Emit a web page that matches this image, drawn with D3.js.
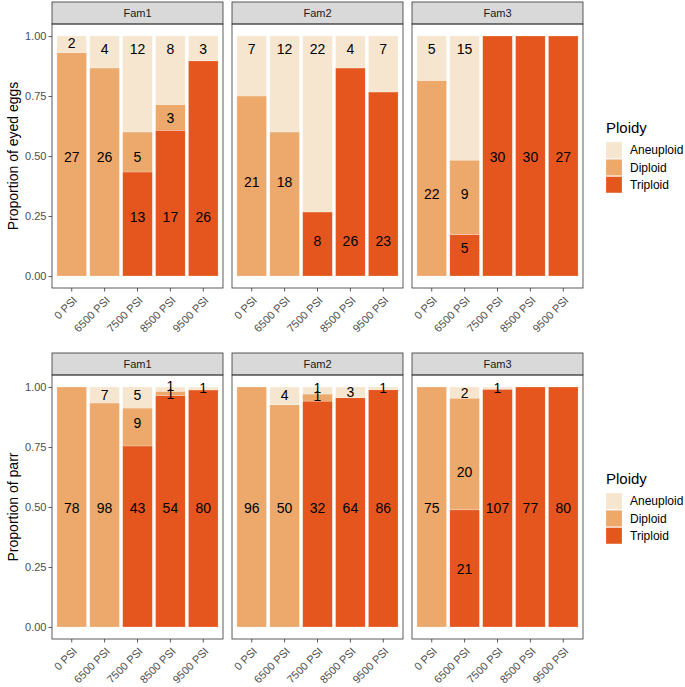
<!DOCTYPE html>
<html>
<head>
  <meta charset="utf-8">
  <title>Ploidy by pressure</title>
  <script src="https://cdn.jsdelivr.net/npm/d3@7"></script>
  <style>
    body { margin: 0; background: #fff; }
    svg text { font-family: "Liberation Sans", Arial, sans-serif; }
  </style>
</head>
<body>
<svg id="chart" width="685" height="687"></svg>
<script>
  var families = ['Fam1', 'Fam2', 'Fam3'];
  var pressures = ['0 PSI', '6500 PSI', '7500 PSI', '8500 PSI', '9500 PSI'];
  var ploidy = ['Aneuploid', 'Diploid', 'Triploid'];

  // counts, one row per family, one value per pressure
  var eggsAneuploid = [[2, 4, 12, 8, 3], [7, 12, 22, 4, 7], [5, 15, 0, 0, 0]];
  var eggsDiploid   = [[27, 26, 5, 3, 0], [21, 18, 0, 0, 0], [22, 9, 0, 0, 0]];
  var eggsTriploid  = [[0, 0, 13, 17, 26], [0, 0, 8, 26, 23], [0, 5, 30, 30, 27]];

  var parrAneuploid = [[0, 7, 5, 1, 1], [0, 4, 1, 3, 1], [0, 2, 1, 0, 0]];
  var parrDiploid   = [[78, 98, 9, 1, 0], [96, 50, 1, 0, 0], [75, 20, 0, 0, 0]];
  var parrTriploid  = [[0, 0, 43, 54, 80], [0, 0, 32, 64, 86], [0, 21, 107, 77, 80]];

  // height (as a proportion) where each count label sits in the original
  var eggsLabelA = [[0.97, 0.944, 0.944, 0.944, 0.944], [0.944, 0.944, 0.944, 0.944, 0.944], [0.944, 0.944, 0, 0, 0]];
  var eggsLabelD = [[0.496, 0.496, 0.496, 0.66, 0], [0.39, 0.39, 0, 0, 0], [0.34, 0.34, 0, 0, 0]];
  var eggsLabelT = [[0, 0, 0.245, 0.245, 0.245], [0, 0, 0.146, 0.146, 0.146], [0, 0.116, 0.496, 0.496, 0.496]];

  var parrLabelA = [[0, 0.967, 0.967, 1.004, 0.995], [0, 0.967, 0.995, 0.978, 0.995], [0, 0.975, 0.995, 0, 0]];
  var parrLabelD = [[0.498, 0.498, 0.85, 0.97, 0], [0.498, 0.498, 0.964, 0, 0], [0.498, 0.646, 0, 0, 0]];
  var parrLabelT = [[0, 0, 0.498, 0.498, 0.498], [0, 0, 0.498, 0.498, 0.498], [0, 0.241, 0.498, 0.498, 0.498]];

  var yTicks = [0, 0.25, 0.5, 0.75, 1];

  var colors = d3.scaleOrdinal().domain(ploidy).range(['#F6E6CF', '#EDA86B', '#E5561F']);

  var rows = [
    { title: 'Proportion of eyed eggs', counts: [eggsAneuploid, eggsDiploid, eggsTriploid],
      labels: [eggsLabelA, eggsLabelD, eggsLabelT], stripTop: 2, legendTop: 133 },
    { title: 'Proportion of parr', counts: [parrAneuploid, parrDiploid, parrTriploid],
      labels: [parrLabelA, parrLabelD, parrLabelT], stripTop: 353, legendTop: 484 }
  ];

  var panelX = [52, 232, 412];
  var panelW = 171;
  var stripH = 22;
  var panelH = 264;
  var ink = '#333333';

  var svg = d3.select('#chart');

  rows.forEach(function(row) {
    var top = row.stripTop + stripH;
    var bottom = top + panelH;
    var y = d3.scaleLinear().domain([-0.05, 1.05]).range([bottom, top]);

    families.forEach(function(fam, fi) {
      var x = d3.scaleBand().domain(pressures)
        .range([panelX[fi], panelX[fi] + panelW])
        .paddingInner(0.1).paddingOuter(0.15);

      var g = svg.append('g');

      // strip
      g.append('rect')
        .attr('x', panelX[fi]).attr('y', row.stripTop)
        .attr('width', panelW).attr('height', stripH)
        .attr('fill', '#D9D9D9').attr('stroke', ink).attr('stroke-width', 0.8);
      g.append('text')
        .attr('x', panelX[fi] + panelW / 2).attr('y', row.stripTop + stripH / 2)
        .attr('dy', '0.35em').attr('text-anchor', 'middle')
        .attr('font-size', 11).attr('fill', '#1A1A1A')
        .text(fam);

      // stacked bars: triploid at bottom, aneuploid on top
      pressures.forEach(function(p, pi) {
        var total = row.counts[0][fi][pi] + row.counts[1][fi][pi] + row.counts[2][fi][pi];
        var base = 0;
        [2, 1, 0].forEach(function(k) {
          var n = row.counts[k][fi][pi];
          if (n === 0) return;
          var frac = n / total;
          g.append('rect')
            .attr('x', x(p)).attr('width', x.bandwidth())
            .attr('y', y(base + frac)).attr('height', y(base) - y(base + frac))
            .attr('fill', colors(ploidy[k]))
            .attr('stroke', '#ffffff').attr('stroke-opacity', 0.35).attr('stroke-width', 0.6);
          base += frac;
        });
      });

      // count labels
      pressures.forEach(function(p, pi) {
        [2, 1, 0].forEach(function(k) {
          var n = row.counts[k][fi][pi];
          if (n === 0) return;
          g.append('text')
            .attr('x', x(p) + x.bandwidth() / 2)
            .attr('y', y(row.labels[k][fi][pi]))
            .attr('dy', '0.36em').attr('text-anchor', 'middle')
            .attr('font-size', 14).attr('fill', '#000')
            .text(n);
        });
      });

      // panel border
      g.append('rect')
        .attr('x', panelX[fi]).attr('y', top)
        .attr('width', panelW).attr('height', panelH)
        .attr('fill', 'none').attr('stroke', ink).attr('stroke-width', 0.8);

      // x axis
      var xAxis = g.append('g')
        .attr('transform', 'translate(0,' + bottom + ')')
        .call(d3.axisBottom(x).tickSize(3.5).tickSizeOuter(0));
      xAxis.select('.domain').remove();
      xAxis.selectAll('.tick line').attr('stroke', ink).attr('stroke-width', 0.8);
      xAxis.selectAll('.tick text')
        .attr('font-size', 11).attr('fill', '#4D4D4D')
        .attr('text-anchor', 'end')
        .attr('y', 0).attr('dy', 0)
        .attr('transform', 'translate(6,13) rotate(-45)');

      // y axis on first panel only
      if (fi === 0) {
        var yAxis = g.append('g')
          .attr('transform', 'translate(' + panelX[0] + ',0)')
          .call(d3.axisLeft(y).tickValues(yTicks).tickFormat(d3.format('.2f')).tickSize(3.5));
        yAxis.select('.domain').remove();
        yAxis.selectAll('.tick line').attr('stroke', ink).attr('stroke-width', 0.8);
        yAxis.selectAll('.tick text')
          .attr('font-size', 11).attr('fill', '#4D4D4D').attr('x', -5.5);
      }
    });

    // y title
    svg.append('text')
      .attr('transform', 'translate(13,' + (top + panelH / 2) + ') rotate(-90)')
      .attr('dy', '0.35em').attr('text-anchor', 'middle')
      .attr('font-size', 14).attr('fill', '#000')
      .text(row.title);

    // legend
    var lg = svg.append('g').attr('transform', 'translate(606,' + row.legendTop + ')');
    lg.append('text').attr('x', 0).attr('y', 0)
      .attr('font-size', 15).attr('fill', '#000').text('Ploidy');
    ploidy.forEach(function(name, i) {
      lg.append('rect')
        .attr('x', 0).attr('y', 9 + i * 17.3)
        .attr('width', 16).attr('height', 16.3)
        .attr('fill', colors(name))
        .attr('stroke', '#ffffff').attr('stroke-opacity', 0.35).attr('stroke-width', 0.6);
      lg.append('text')
        .attr('x', 24).attr('y', 9 + i * 17.3 + 8.2)
        .attr('dy', '0.35em').attr('font-size', 12).attr('fill', '#000')
        .text(name);
    });
  });
</script>
</body>
</html>
